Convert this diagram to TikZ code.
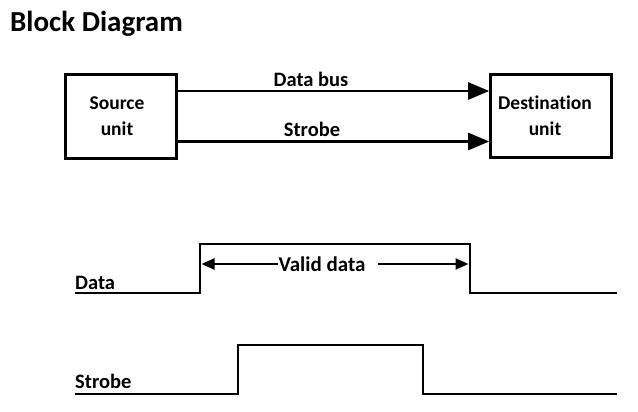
\documentclass[tikz,border=0pt]{standalone}
\usepackage{fontspec}
\setmainfont{Carlito}[Ligatures=NoCommon]
\usetikzlibrary{arrows.meta}
\begin{document}
\begin{tikzpicture}[x=1pt,y=-1pt,
  unitbox/.style={draw,line width=2.6pt,inner sep=0pt},
  unittext/.style={inner sep=0pt,align=center,font=\bfseries\fontsize{19.5}{26}\selectfont},
  bus/.style={line width=2.6pt,-{Triangle[length=21pt,width=17pt]}},
  lbl/.style={anchor=base,inner sep=0pt,font=\bfseries\fontsize{20.5}{24}\selectfont},
  wave/.style={line width=2.4pt,line join=miter},
  dim/.style={line width=2.4pt,-{Triangle[length=13pt,width=11pt]}}]
\useasboundingbox (0,0) rectangle (638,412);
\node[anchor=base west,inner sep=0pt,font=\bfseries\fontsize{29}{34}\selectfont] (title) at (10,32) {Block Diagram};
\node[unitbox,minimum width=111pt,minimum height=84pt] (src) at (121,116.5) {};
\node[unittext] (srct) at (117,116) {Source\\unit};
\node[unitbox,minimum width=121pt,minimum height=83pt] (dst) at (551,116) {};
\node[unittext] (dstt) at (545,116) {Destination\\unit};
\coordinate (ybus) at (0,91);
\coordinate (ystb) at (0,141.5);
\draw[bus] (src.east |- ybus) -- (dst.west |- ybus);
\draw[bus] (src.east |- ystb) -- (dst.west |- ystb);
\node[lbl] (lbus) at (311,87) {Data bus};
\node[lbl] (lstb) at (312,136) {Strobe};
% timing
\node[lbl,anchor=base west] (ldata) at (75,289) {Data};
\node[lbl,anchor=base west] (lstrobe) at (75,388) {Strobe};
\draw[wave] (75,293) -- (200,293) -- (200,244) -- (470,244) -- (470,293) -- (617,293);
\draw[wave] (75,394) -- (238,394) -- (238,345) -- (423,345) -- (423,394) -- (617,394);
\node[lbl,anchor=center,inner sep=0pt,font=\bfseries\fontsize{21}{24}\selectfont] (vd) at (322,264) {Valid data};
\coordinate (vdl) at (201.5,264);
\coordinate (vdr) at (468.5,264);
\draw[dim] (vd.west) -- (vdl);
\draw[dim] ([xshift=12pt]vd.east) -- (vdr);
\end{tikzpicture}
\end{document}
